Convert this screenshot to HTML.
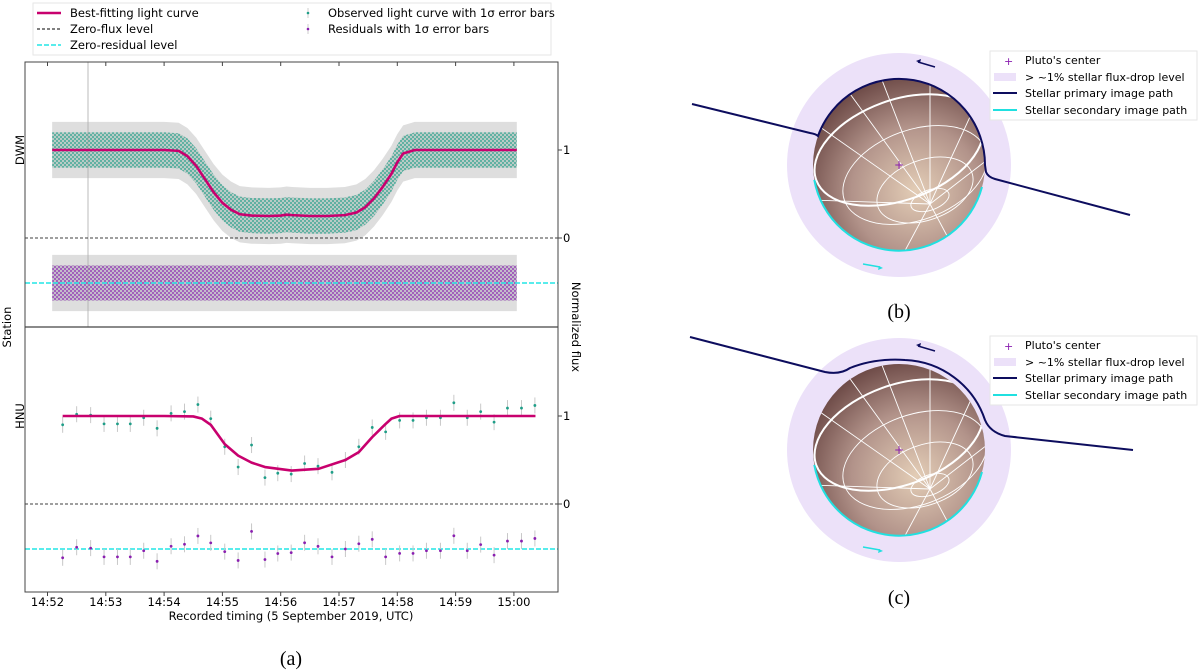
<!DOCTYPE html>
<html><head><meta charset="utf-8">
<style>
html,body{margin:0;padding:0;background:#fff;}
svg{display:block;font-family:"DejaVu Sans","Liberation Sans",sans-serif;}
</style></head>
<body>
<svg id="fig" width="1200" height="671" viewBox="0 0 1200 671" xmlns="http://www.w3.org/2000/svg">
<defs>
<pattern id="tealDots" width="4" height="4" patternUnits="userSpaceOnUse">
<rect width="4" height="4" fill="#b9cbc6"/>
<circle cx="1" cy="1" r="0.9" fill="#1f9e88"/>
<circle cx="3" cy="3" r="0.9" fill="#1f9e88"/>
</pattern>
<pattern id="purpDots" width="4" height="4" patternUnits="userSpaceOnUse">
<rect width="4" height="4" fill="#c4bccb"/>
<circle cx="1" cy="1" r="0.9" fill="#8a1fb0"/>
<circle cx="3" cy="3" r="0.9" fill="#8a1fb0"/>
</pattern>
<radialGradient id="pluto" cx="0.6" cy="0.65" r="0.75">
<stop offset="0" stop-color="#e3cdb6"/>
<stop offset="0.5" stop-color="#b2938a"/>
<stop offset="1" stop-color="#5e3a38"/>
</radialGradient>
<clipPath id="clipB"><circle cx="899" cy="165" r="86"/></clipPath>
<clipPath id="clipC"><circle cx="899" cy="450" r="86"/></clipPath>
</defs>

<!-- legend -->
<g>
<rect x="33" y="3" width="518" height="52" fill="#fff" stroke="#e6e6e6"/>
<g><line x1="37" y1="13" x2="61" y2="13" stroke="#c8006e" stroke-width="2.5"/><text x="70" y="17" font-size="11.5">Best-fitting light curve</text></g>
<g><line x1="37" y1="29" x2="61" y2="29" stroke="#000" stroke-dasharray="3,2"/><text x="70" y="33" font-size="11.5">Zero-flux level</text></g>
<g><line x1="37" y1="45" x2="61" y2="45" stroke="#22e5e5" stroke-width="1.6" stroke-dasharray="5,2"/><text x="70" y="49" font-size="11.5">Zero-residual level</text></g>
<g><line x1="308" y1="8" x2="308" y2="18" stroke="#ccc"/><circle cx="308" cy="13" r="1.3" fill="#1f9e88"/><text x="328" y="17" font-size="11.5">Observed light curve with 1σ error bars</text></g>
<g><line x1="308" y1="24" x2="308" y2="34" stroke="#ccc"/><circle cx="308" cy="29" r="1.3" fill="#8a1fb0"/><text x="328" y="33" font-size="11.5">Residuals with 1σ error bars</text></g>
</g>

<g id="chart"></g>

<!-- axes labels -->
<text x="0" y="0" font-size="11.5" transform="translate(24,150) rotate(-90)" text-anchor="middle">DWM</text>
<text x="0" y="0" font-size="11.5" transform="translate(24,416) rotate(-90)" text-anchor="middle">HNU</text>
<text x="0" y="0" font-size="11.5" transform="translate(11,327) rotate(-90)" text-anchor="middle">Station</text>
<text x="0" y="0" font-size="11.5" transform="translate(572,327) rotate(90)" text-anchor="middle">Normalized flux</text>
<text x="291" y="620" font-size="11.5" text-anchor="middle">Recorded timing (5 September 2019, UTC)</text>
<text x="291" y="665" font-size="20" text-anchor="middle" font-family="Liberation Serif, serif">(a)</text>

<!-- panel b -->
<g>
<circle cx="899" cy="165" r="112" fill="#ece1f9"/>
<circle cx="899" cy="165" r="86" fill="url(#pluto)"/>
<g clip-path="url(#clipB)" fill="none" stroke="#fff" stroke-width="0.9">
<ellipse cx="899" cy="150" rx="88" ry="50" transform="rotate(-20 899 150)" stroke-width="2"/>
<ellipse cx="930" cy="200" rx="20" ry="10" transform="rotate(-20 930 200)"/>
<ellipse cx="925" cy="190" rx="50" ry="30" transform="rotate(-20 925 190)"/>
<ellipse cx="915" cy="175" rx="75" ry="45" transform="rotate(-20 915 175)"/>
<line x1="930" y1="204" x2="840" y2="80"/><line x1="930" y1="204" x2="880" y2="75"/><line x1="930" y1="204" x2="930" y2="78"/><line x1="930" y1="204" x2="980" y2="95"/><line x1="930" y1="204" x2="1000" y2="150"/><line x1="930" y1="204" x2="810" y2="120"/><line x1="930" y1="204" x2="810" y2="200"/><line x1="930" y1="204" x2="900" y2="260"/><line x1="930" y1="204" x2="960" y2="260"/>
</g>
<path d="M814.3,179.9 A86,86 0 0 0 982,187" fill="none" stroke="#20e0e0" stroke-width="2"/>
<path d="M692,104 L810,133 Q816,134 818,136 A86,86 0 0 1 985,165 L986,172 Q988,177 995,179 L1130,215" fill="none" stroke="#0d0d5e" stroke-width="2"/>
<line x1="935" y1="67" x2="918" y2="62" stroke="#0d0d5e" stroke-width="1.5"/><path d="M916,61 l5,-2 l-1,4z" fill="#0d0d5e"/>
<line x1="863" y1="264" x2="880" y2="267" stroke="#20e0e0" stroke-width="1.5"/><path d="M883,268 l-5,2 l1,-4z" fill="#20e0e0"/>
<text x="899" y="169" font-size="12" fill="#8a1fb0" text-anchor="middle">+</text>
<text x="899" y="318" font-size="20" text-anchor="middle" font-family="Liberation Serif, serif">(b)</text>
<g>
<rect x="990" y="51" width="207" height="69" fill="#fff" stroke="#e6e6e6"/>
<text x="1004" y="65" font-size="11" fill="#8a1fb0">+</text><text x="1025" y="64" font-size="11">Pluto's center</text>
<rect x="994" y="73" width="22" height="8" fill="#ece1f9"/><text x="1025" y="81" font-size="11">&gt; ~1% stellar flux-drop level</text>
<line x1="993" y1="93" x2="1017" y2="93" stroke="#0d0d5e" stroke-width="2"/><text x="1025" y="97" font-size="11">Stellar primary image path</text>
<line x1="993" y1="110" x2="1017" y2="110" stroke="#20e0e0" stroke-width="2"/><text x="1025" y="114" font-size="11">Stellar secondary image path</text>
</g>
</g>

<!-- panel c -->
<g>
<circle cx="899" cy="450" r="112" fill="#ece1f9"/>
<circle cx="899" cy="450" r="86" fill="url(#pluto)"/>
<g clip-path="url(#clipC)" fill="none" stroke="#fff" stroke-width="0.9">
<ellipse cx="899" cy="435" rx="88" ry="50" transform="rotate(-20 899 435)" stroke-width="2"/>
<ellipse cx="930" cy="485" rx="20" ry="10" transform="rotate(-20 930 485)"/>
<ellipse cx="925" cy="475" rx="50" ry="30" transform="rotate(-20 925 475)"/>
<ellipse cx="915" cy="460" rx="75" ry="45" transform="rotate(-20 915 460)"/>
<line x1="930" y1="489" x2="840" y2="365"/><line x1="930" y1="489" x2="880" y2="360"/><line x1="930" y1="489" x2="930" y2="363"/><line x1="930" y1="489" x2="980" y2="380"/><line x1="930" y1="489" x2="1000" y2="435"/><line x1="930" y1="489" x2="810" y2="405"/><line x1="930" y1="489" x2="810" y2="485"/><line x1="930" y1="489" x2="900" y2="545"/><line x1="930" y1="489" x2="960" y2="545"/>
</g>
<path d="M814.3,464.9 A86,86 0 0 0 982,472" fill="none" stroke="#20e0e0" stroke-width="2"/>
<path d="M690,337 L825,372 Q840,375 850,368 Q875,358 905,360 A88,88 0 0 1 985,420 Q990,432 1005,436 L1133,450" fill="none" stroke="#0d0d5e" stroke-width="2"/>
<line x1="935" y1="351" x2="918" y2="346" stroke="#0d0d5e" stroke-width="1.5"/><path d="M916,345 l5,-2 l-1,4z" fill="#0d0d5e"/>
<line x1="863" y1="547" x2="880" y2="550" stroke="#20e0e0" stroke-width="1.5"/><path d="M883,551 l-5,2 l1,-4z" fill="#20e0e0"/>
<text x="899" y="454" font-size="12" fill="#8a1fb0" text-anchor="middle">+</text>
<text x="899" y="604" font-size="20" text-anchor="middle" font-family="Liberation Serif, serif">(c)</text>
<g>
<rect x="990" y="336" width="207" height="69" fill="#fff" stroke="#e6e6e6"/>
<text x="1004" y="350" font-size="11" fill="#8a1fb0">+</text><text x="1025" y="349" font-size="11">Pluto's center</text>
<rect x="994" y="358" width="22" height="8" fill="#ece1f9"/><text x="1025" y="366" font-size="11">&gt; ~1% stellar flux-drop level</text>
<line x1="993" y1="378" x2="1017" y2="378" stroke="#0d0d5e" stroke-width="2"/><text x="1025" y="382" font-size="11">Stellar primary image path</text>
<line x1="993" y1="395" x2="1017" y2="395" stroke="#20e0e0" stroke-width="2"/><text x="1025" y="399" font-size="11">Stellar secondary image path</text>
</g>
</g>
</svg>

<script>
// time in minutes after 14:52 UTC
const xTickLabels = ["14:52","14:53","14:54","14:55","14:56","14:57","14:58","14:59","15:00"];
const dwmModelT = [0.08,1.0,2.0,2.25,2.4,2.55,2.7,2.85,3.0,3.15,3.3,3.5,3.8,4.0,4.1,4.2,4.5,4.8,5.1,5.3,5.45,5.6,5.75,5.9,6.0,6.1,6.3,7.0,8.05];
const dwmModelV = [1,1,1,0.99,0.93,0.82,0.67,0.52,0.40,0.32,0.27,0.255,0.25,0.255,0.265,0.26,0.25,0.25,0.26,0.29,0.35,0.45,0.58,0.73,0.86,0.96,1,1,1];
const dwmScatter = 0.2;   // half-width of observed cloud (flux units)
const dwmErr = 0.32;      // half-width incl. error bars
const hnuModelT = [0.26,1,2,2.5,2.65,2.8,3.04,3.27,3.5,3.73,4.19,4.65,5.11,5.34,5.57,5.8,5.9,6.04,7,8.37];
const hnuModelV = [1,1,1,0.995,0.97,0.9,0.68,0.55,0.47,0.42,0.38,0.40,0.50,0.59,0.76,0.91,0.97,1,1,1];
const hnuObsT = [0.26,0.50,0.74,0.97,1.20,1.42,1.65,1.88,2.12,2.35,2.58,2.80,3.04,3.27,3.50,3.73,3.95,4.18,4.41,4.64,4.88,5.11,5.34,5.57,5.80,6.04,6.27,6.50,6.74,6.97,7.20,7.43,7.66,7.89,8.13,8.36];
const hnuObsV = [0.90,1.02,1.01,0.91,0.91,0.91,0.98,0.86,1.03,1.05,1.13,0.97,0.65,0.42,0.67,0.30,0.35,0.34,0.46,0.43,0.36,0.50,0.65,0.87,0.82,0.95,0.95,0.98,0.98,1.15,0.98,1.05,0.93,1.09,1.09,1.12];

const NS="http://www.w3.org/2000/svg";
const g=document.getElementById('chart');
const X0=25,X1=558,T0=47.5,PXMIN=58.3,UNIT=88;
const xs=t=>T0+t*PXMIN;
const panels={dwm:{zero:238,res:283,top:62,bot:327},hnu:{zero:504,res:549,top:327,bot:592}};
const yv=(p,v)=>panels[p].zero-v*UNIT;
const yr=(p,r)=>panels[p].res-r*UNIT;
function mk(tag,attrs,parent){const e=document.createElementNS(NS,tag);for(const k in attrs)e.setAttribute(k,attrs[k]);(parent||g).appendChild(e);return e;}
function interp(T,V,t){if(t<=T[0])return V[0];for(let i=1;i<T.length;i++){if(t<=T[i]){const f=(t-T[i-1])/(T[i]-T[i-1]);return V[i-1]+f*(V[i]-V[i-1]);}}return V[V.length-1];}
function band(T,yfun,half,fill){let up=T.map((t,i)=>xs(t)+','+yfun(i,half)).join(' ');let dn=T.slice().reverse().map((t,j)=>{const i=T.length-1-j;return xs(t)+','+yfun(i,-half);}).join(' ');return mk('polygon',{points:up+' '+dn,fill:fill});}

let e;
e=band(dwmModelT,(i,h)=>yv('dwm',dwmModelV[i]+h),dwmErr,'#dedede');


e=band(dwmModelT,(i,h)=>yv('dwm',dwmModelV[i]+h),dwmScatter,'url(#tealDots)');


e=band(dwmModelT,(i,h)=>yr('dwm',h),dwmErr,'#dedede');


e=band(dwmModelT,(i,h)=>yr('dwm',h),dwmScatter,'url(#purpDots)');



e=mk('line',{x1:88,y1:62,x2:88,y2:327,stroke:'#aaa','stroke-width':0.8});



['dwm','hnu'].forEach(p=>{
  e=mk('line',{x1:X0,x2:X1,y1:panels[p].zero,y2:panels[p].zero,stroke:'#000','stroke-width':0.8,'stroke-dasharray':'3,2'});
  
  
  e=mk('line',{x1:X0,x2:X1,y1:panels[p].res,y2:panels[p].res,stroke:'#22e5e5','stroke-width':1.6,'stroke-dasharray':'5,2'});
  
  
});

hnuObsT.forEach((t,i)=>{
  const v=hnuObsV[i], r=v-interp(hnuModelT,hnuModelV,t), x=xs(t);
  e=mk('line',{x1:x,x2:x,y1:yv('hnu',v)-8,y2:yv('hnu',v)+8,stroke:'#c8c8c8','stroke-width':1});
  
  
  e=mk('circle',{cx:x,cy:yv('hnu',v),r:1.4,fill:'#1f9e88'});
  
  
  e=mk('line',{x1:x,x2:x,y1:yr('hnu',r)-8,y2:yr('hnu',r)+8,stroke:'#c8c8c8','stroke-width':1});
  
  
  e=mk('circle',{cx:x,cy:yr('hnu',r),r:1.4,fill:'#8a1fb0'});
  
  
});

e=mk('polyline',{points:dwmModelT.map((t,i)=>xs(t)+','+yv('dwm',dwmModelV[i])).join(' '),fill:'none',stroke:'#c8006e','stroke-width':2.6,'stroke-linejoin':'round'});


e=mk('polyline',{points:hnuModelT.map((t,i)=>xs(t)+','+yv('hnu',hnuModelV[i])).join(' '),fill:'none',stroke:'#c8006e','stroke-width':2.6,'stroke-linejoin':'round'});



e=mk('rect',{x:X0,y:62,width:X1-X0,height:530,fill:'none',stroke:'#444','stroke-width':1});


e=mk('line',{x1:X0,x2:X1,y1:327,y2:327,stroke:'#444','stroke-width':1.2});



xTickLabels.forEach((lab,i)=>{
  const x=xs(i);
  e=mk('line',{x1:x,x2:x,y1:592,y2:596,stroke:'#444'});
  
  
  mk('line',{x1:x,x2:x,y1:62,y2:66,stroke:'#444'});
  e=mk('text',{x:x,y:606,'font-size':11.5,'text-anchor':'middle'});
  e.textContent=lab;
  
  
});
['dwm','hnu'].forEach(p=>{
  [0,1].forEach(v=>{
    const y=yv(p,v);
    mk('line',{x1:X1,x2:X1+4,y1:y,y2:y,stroke:'#444'});
    e=mk('text',{x:X1+5,y:y+4,'font-size':11.5});
    e.textContent=String(v);
    
    
  });
});
</script>
</body></html>
